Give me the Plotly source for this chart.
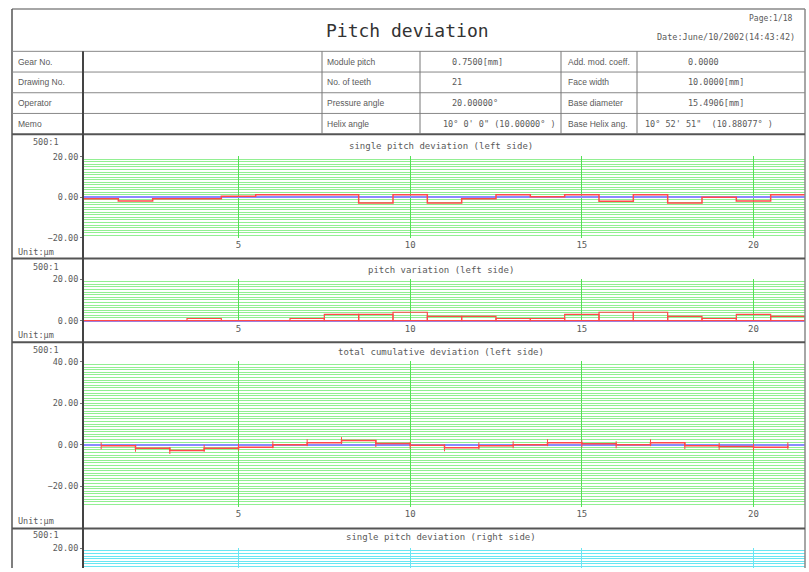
import plotly.graph_objects as go

W, H = 809, 572

# ---- data -----------------------------------------------------------------
teeth = list(range(1, 22))

single_pitch_left = [-0.7, -1.8, -0.8, -0.8, 0.5, 1.3, 1.3, 1.3, -2.8, 1.3, -2.8,
                     -0.7, 1.3, 0.2, 1.3, -2.0, 1.3, -2.8, 0.0, -1.8, 1.3]

pitch_variation_left = [0.0, 0.0, 0.0, 1.0, 0.0, 0.0, 1.0, 3.0, 3.0, 4.0, 2.0,
                        2.0, 1.0, 1.0, 3.0, 4.0, 4.0, 2.0, 1.0, 3.0, 2.0]

total_cumulative_left = [-0.5, -1.7, -2.8, -1.7, -1.2, 0.0, 1.0, 2.0, 0.6, -0.3, -1.5,
                         -0.5, 0.0, 1.0, 0.5, 0.0, 1.0, -0.5, -0.8, -1.2, -0.5]

x_tick_values = [5, 10, 15, 20]

# header table
row_labels_a = ["Gear No.", "Drawing No.", "Operator", "Memo"]
row_labels_b = ["Module pitch", "No. of teeth", "Pressure angle", "Helix angle"]
row_values_b = ["0.7500[mm]", "21", "20.00000°", "10° 0' 0\" (10.00000° )"]
row_labels_c = ["Add. mod. coeff.", "Face width", "Base diameter", "Base Helix ang."]
row_values_c = ["0.0000", "10.0000[mm]", "15.4906[mm]", "10° 52' 51\"  (10.88077° )"]

panel_titles = ["single pitch deviation (left side)",
                "pitch variation (left side)",
                "total cumulative deviation (left side)",
                "single pitch deviation (right side)"]

# ---- helpers ----------------------------------------------------------------
MONO = "DejaVu Sans Mono"
SANS = "Liberation Sans"
TXT = "#5a5a5a"
RED = "#ff4a4a"
BLUE = "#8a8aff"
GREEN_H = "#92ef92"
GREEN_V = "#55e055"
CYAN = "#6ae6f2"


def fx(x):
    return x / W


def fy(y):
    return 1 - y / H


shapes = []
annotations = []


def hline(y, x0, x1, color="#666", width=1):
    shapes.append(dict(type="line", xref="paper", yref="paper", x0=fx(x0), x1=fx(x1),
                       y0=fy(y), y1=fy(y), line=dict(color=color, width=width)))


def vline(x, y0, y1, color="#666", width=1):
    shapes.append(dict(type="line", xref="paper", yref="paper", x0=fx(x), x1=fx(x),
                       y0=fy(y0), y1=fy(y1), line=dict(color=color, width=width)))


def text(s, x, y, size=8.5, anchor="left", color=TXT, family=MONO):
    annotations.append(dict(text=s, x=fx(x), y=fy(y), xref="paper", yref="paper",
                            xanchor=anchor, yanchor="middle", showarrow=False,
                            font=dict(family=family, size=size, color=color)))


L, R = 12, 805
PLOT_L = 83

# ---- frame and table ------------------------------------------------------
hline(5, L, R, "#888", 1.5)
vline(L, 5, H, "#555", 1.5)
vline(R, 5, H, "#888", 1.5)
for y in [48, 69, 90, 111]:
    hline(y, L, R, "#888", 1)
for y in [132, 258, 343, 532]:
    hline(y, L, R, "#555", 2)
vline(PLOT_L, 48, H, "#444", 2)
for x in [322, 420, 561, 637]:
    vline(x, 48, 132, "#777", 1)

text("Pitch deviation", 407, 27, size=18, anchor="center", color="#333")
text("Page:1/18", 795, 15, size=8, anchor="right")
text("Date:June/10/2002(14:43:42)", 797, 33, size=8.5, anchor="right")

row_y = [58.5, 79.5, 100.5, 121.5]
for i, y in enumerate(row_y):
    text(row_labels_a[i], 16, y, size=8.5, family=SANS)
    text(row_labels_b[i], 325, y, size=8.5, family=SANS)
    text(row_values_b[i], 441 if i == 3 else 450, y, size=8.5)
    text(row_labels_c[i], 566, y, size=8.5, family=SANS)
    text(row_values_c[i], 643 if i == 3 else 686, y, size=8.5)

# ---- panel captions -------------------------------------------------------
scale_y = [140, 267, 351, 539]
title_y = [144, 270, 353, 541]
unit_y = [252, 336, 524, None]
for i in range(4):
    text("500:1", 46, scale_y[i], anchor="center")
    text(panel_titles[i], 441, title_y[i], size=9, anchor="center")
    if unit_y[i] is not None:
        text("Unit:µm", 16, unit_y[i])

# ---- plotting areas -------------------------------------------------------
# (domain top px, domain bottom px, y range)
panels = [
    (154.4, 237.6, [-20.3, 20.3]),
    (278.4, 322.3, [-0.6, 20.3]),
    (362.4, 510.6, [-30.3, 40.3]),
    (551.4, 572.0, [10.5, 20.3]),
]

fig = go.Figure()

layout = dict(width=W, height=H, margin=dict(l=0, r=0, t=0, b=0),
              paper_bgcolor="white", plot_bgcolor="white", showlegend=False,
              shapes=shapes, annotations=annotations)

for i, (top, bot, yr) in enumerate(panels):
    n = "" if i == 0 else str(i + 1)
    grid_h = CYAN if i == 3 else GREEN_H
    grid_v = CYAN if i == 3 else GREEN_V
    layout["xaxis" + n] = dict(
        domain=[fx(PLOT_L + 1), fx(R)], anchor="y" + n, range=[0.5, 21.5],
        tickmode="array", tickvals=x_tick_values, showgrid=True, gridcolor=grid_v,
        gridwidth=1, zeroline=False, showline=False, ticks="",
        showticklabels=(i < 3), tickfont=dict(family=MONO, size=9, color=TXT),
        fixedrange=True,
    )
    layout["yaxis" + n] = dict(
        domain=[max(0.0, fy(bot)), fy(top)], anchor="x" + n, range=yr,
        tickmode="linear", tick0=0, dtick=20, tickformat=".2f",
        showgrid=True, gridcolor=grid_h, gridwidth=1,
        minor=dict(tick0=0, dtick=1.25, showgrid=True, gridcolor=grid_h,
                   gridwidth=1, ticks=""),
        zeroline=(i < 3), zerolinecolor=BLUE, zerolinewidth=2,
        showline=False, ticks="outside", ticklen=3, tickcolor="#777",
        tickfont=dict(family=MONO, size=8.5, color=TXT), fixedrange=True,
    )

# single pitch deviation: one flat step per tooth
edges = [t - 0.5 for t in teeth] + [teeth[-1] + 0.5]
fig.add_trace(go.Scatter(x=edges, y=single_pitch_left + [single_pitch_left[-1]],
                         mode="lines", line=dict(color=RED, width=1.5, shape="hv"),
                         xaxis="x", yaxis="y"))

# pitch variation: outlined bars per tooth
fig.add_trace(go.Bar(x=teeth, y=pitch_variation_left, width=1,
                     marker=dict(color="rgba(0,0,0,0)", line=dict(color=RED, width=1.2)),
                     xaxis="x2", yaxis="y2"))

# total cumulative deviation
fig.add_trace(go.Scatter(x=teeth, y=total_cumulative_left, mode="lines+markers",
                         line=dict(color=RED, width=1.5, shape="hv"),
                         marker=dict(symbol="line-ns-open", size=5,
                                     line=dict(color=RED, width=1)),
                         xaxis="x3", yaxis="y3"))

# right flank panel (axes only in view)
fig.add_trace(go.Scatter(x=[], y=[], mode="lines", xaxis="x4", yaxis="y4"))

fig.update_layout(**layout)
fig.write_html("out.html")
